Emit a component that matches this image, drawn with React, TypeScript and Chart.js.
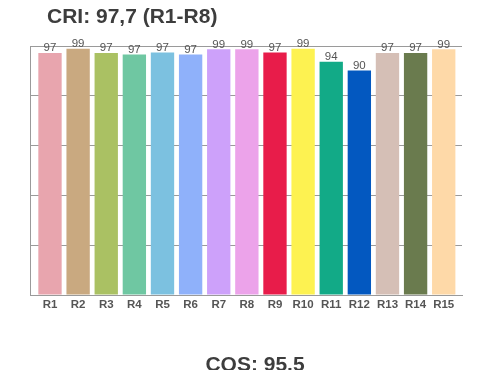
import React, { useEffect, useRef } from "react";
import { Chart, registerables } from "chart.js";

Chart.register(...registerables);

const categories = ["R1", "R2", "R3", "R4", "R5", "R6", "R7", "R8", "R9", "R10", "R11", "R12", "R13", "R14", "R15"];
const values = [97.2, 98.9, 97.2, 96.6, 97.4, 96.6, 98.7, 98.7, 97.4, 98.9, 93.7, 90.2, 97.2, 97.2, 98.7];
const barColors = [
  "#e8a5ae", "#c9a980", "#aac163", "#6fc7a2", "#7cc1e0", "#8fb1fa", "#cda1fa", "#eca3ea",
  "#e81c4a", "#fdf251", "#12aa87", "#0358c0", "#d5bfb6", "#6a7b4e", "#fed9a8",
];
const titleText = "CRI: 97,7 (R1-R8)";
const footerText = "CQS: 95.5";

export default function App() {
  const ref = useRef<HTMLCanvasElement | null>(null);
  useEffect(() => {
    if (!ref.current) return;
    const labelsPlugin = {
      id: "valueLabels",
      afterDatasetsDraw(chart: any) {
        const ctx = chart.ctx;
        const meta = chart.getDatasetMeta(0);
        ctx.save();
        ctx.font = "11.5px 'Liberation Sans', Arial, sans-serif";
        ctx.fillStyle = "#555";
        ctx.textAlign = "center";
        ctx.textBaseline = "alphabetic";
        meta.data.forEach((bar: any, i: number) => {
          ctx.fillText(String(Math.round(values[i])), bar.x, bar.y - 1.5);
        });
        ctx.restore();
      },
      afterDraw(chart: any) {
        const ctx = chart.ctx;
        ctx.save();
        ctx.font = "bold 21px 'Liberation Sans', Arial, sans-serif";
        ctx.fillStyle = "#3d3d3d";
        ctx.textBaseline = "alphabetic";
        ctx.textAlign = "left";
        ctx.fillText(titleText, 47, 22.5);
        ctx.textAlign = "center";
        ctx.fillText(footerText, 255, 371);
        ctx.restore();
      },
    };
    const chart = new Chart(ref.current, {
      type: "bar",
      data: {
        datasets: [
          {
            data: values.map((v, i) => ({ x: i, y: v })),
            backgroundColor: barColors,
            borderWidth: 0,
            barPercentage: 0.83,
            categoryPercentage: 1,
          },
        ],
      },
      options: {
        animation: false,
        responsive: true,
        maintainAspectRatio: false,
        layout: { padding: { left: 30, right: 38, top: 46, bottom: 0 } },
        plugins: { legend: { display: false }, tooltip: { enabled: false }, title: { display: false } },
        scales: {
          x: {
            type: "linear",
            offset: false,
            min: -0.711,
            max: 14.65,
            grid: { display: false, drawTicks: false, offset: false },
            border: { display: true, color: "#9a9a9a", width: 1 },
            afterBuildTicks: (scale: any) => {
              scale.ticks = categories.map((_, i) => ({ value: i }));
            },
            afterFit: (scale: any) => {
              scale.height = 75;
            },
            ticks: {
              autoSkip: false,
              maxRotation: 0,
              padding: 3,
              color: "#555",
              font: { family: "'Liberation Sans', Arial, sans-serif", size: 11.5, weight: "bold" },
              callback: (v: any) => categories[v as number] ?? "",
            },
          },
          y: {
            min: 0,
            max: 100,
            ticks: { display: false, stepSize: 20 },
            grid: { color: "#9a9a9a", lineWidth: 1, drawTicks: false },
            border: { display: true, color: "#9a9a9a", width: 1 },
            afterFit: (scale: any) => {
              scale.width = 0;
            },
          },
        },
      },
      plugins: [labelsPlugin],
    } as any);
    return () => chart.destroy();
  }, []);
  return (
    <div style={{ position: "fixed", left: 0, top: 0, width: 500, height: 370, background: "#fff" }}>
      <canvas ref={ref} />
    </div>
  );
}
